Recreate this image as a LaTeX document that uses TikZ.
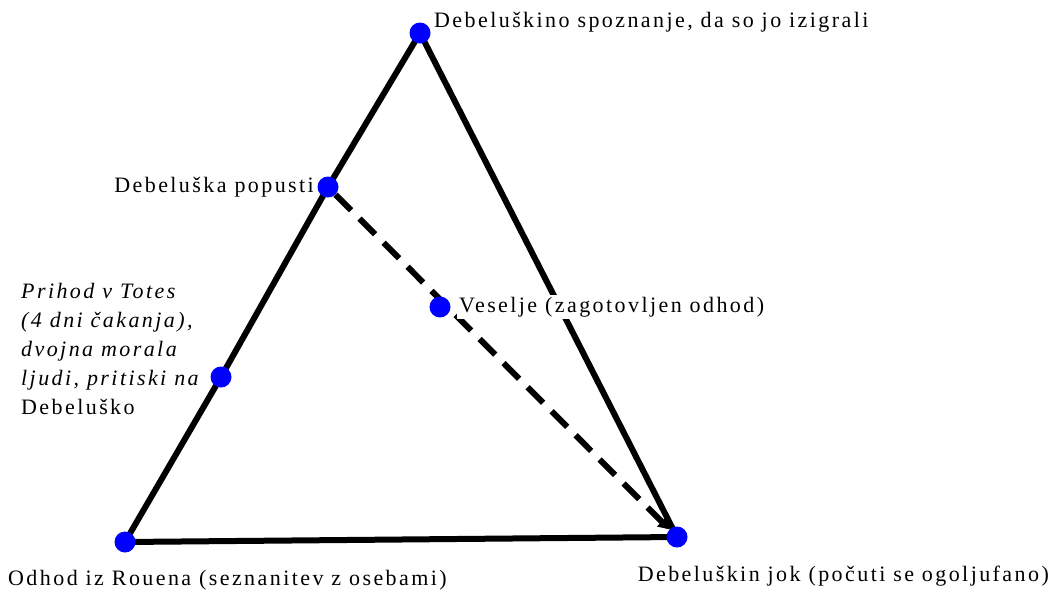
\documentclass[tikz,border=0pt]{standalone}
\usepackage{fontspec}
\setmainfont[LetterSpace=11]{Liberation Serif}
\usetikzlibrary{arrows.meta,positioning}
\pgfdeclarelayer{back}
\pgfsetlayers{back,main}

\tikzset{
  dot/.style={circle, fill=blue, inner sep=0pt, minimum size=21pt},
  side/.style={line width=6pt},
  txt/.style={inner sep=0pt, font=\fontsize{22}{29}\selectfont}
}

\begin{document}
\begin{tikzpicture}[x=1pt, y=-1pt]
    \useasboundingbox (0,0) rectangle (1054,592);
    % points of the plot
    \node[dot] (spoznanje) at (420,33) {};
    \node[dot] (popusti) at (328,187) {};
    \node[dot] (prihod) at (221,377) {};
    \node[dot] (veselje) at (440,307) {};
    \node[dot] (rouen) at (125,542) {};
    \node[dot] (jok) at (677,537) {};
    % triangle and arrow
    \begin{pgfonlayer}{back}
    \draw[side] (rouen.center) -- (prihod.center) -- (popusti.center)
        -- (spoznanje.center) -- (jok.center) -- (rouen.center);
    \draw[side, dash pattern=on 22pt off 12pt, -{Triangle[length=11pt,width=13pt]}]
        (popusti) -- (jok);
    \end{pgfonlayer}
    % labels
    \node[txt, anchor=west] (l1) at (434,22) {Debeluškino spoznanje, da so jo izigrali};
    \node[txt, anchor=east] (l2) at (314,187) {Debeluška popusti};
    \node[txt, anchor=west, fill=white, inner sep=2pt] (l4) at (457,307) {Veselje (zagotovljen odhod)};
    \node[txt, anchor=north west, align=left] (l3) at (21,283)
        {\itshape Prihod v Totes\\ \itshape (4 dni čakanja),\\ \itshape dvojna morala\\ \itshape ljudi, pritiski na\\ Debeluško};
    \node[txt, anchor=west] (l5) at (8,580) {Odhod iz Rouena (seznanitev z osebami)};
    \node[txt, anchor=east] (l6) at (1049,576) {Debeluškin jok (počuti se ogoljufano)};
\end{tikzpicture}
\end{document}
